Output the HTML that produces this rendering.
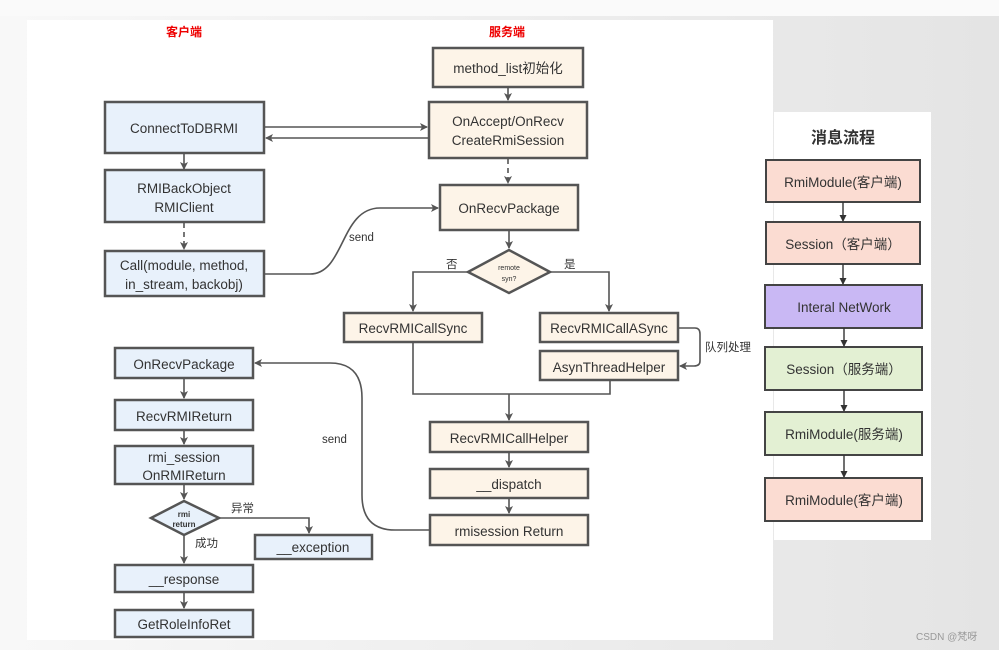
<!DOCTYPE html>
<html><head><meta charset="utf-8"><style>
body{margin:0;width:999px;height:650px;overflow:hidden;background:#f2f2f2;}
svg{position:absolute;left:0;top:0}
text{font-family:"Liberation Sans","Noto Sans CJK SC",sans-serif;fill:#333;}
</style></head><body>
<svg width="999" height="650" viewBox="0 0 999 650">
<defs>
<marker id="a" markerWidth="8" markerHeight="8" refX="7" refY="4" orient="auto" markerUnits="userSpaceOnUse"><path d="M0,0 L8,4 L0,8 L2,4 z" fill="#555"/></marker>
<marker id="b" markerWidth="7" markerHeight="7" refX="6" refY="3.5" orient="auto" markerUnits="userSpaceOnUse"><path d="M0,0 L7,3.5 L0,7 z" fill="#333"/></marker>
<linearGradient id="g" x1="0" x2="1"><stop offset="0" stop-color="#f8f8f8"/><stop offset="1" stop-color="#e4e4e4"/></linearGradient>
</defs>
<rect x="0" y="0" width="999" height="650" fill="url(#g)"/>
<rect x="27" y="20" width="746" height="620" fill="#fff"/>
<rect x="774" y="112" width="157" height="428" fill="#fff"/>
<rect x="0" y="0" width="999" height="16" fill="#fafafa"/>

<g font-size="13" text-anchor="middle">
<text x="184" y="36" fill="#e00" style="fill:#e00" font-weight="bold" font-size="12">客户端</text>
<text x="507" y="36" style="fill:#e00" font-weight="bold" font-size="12">服务端</text>
</g>

<g stroke="#555" stroke-width="2.5">
<!-- client -->
<rect x="105" y="102" width="159" height="51" fill="#e8f1fb"/>
<rect x="105" y="170" width="159" height="52" fill="#e8f1fb"/>
<rect x="105" y="251" width="159" height="45" fill="#e8f1fb"/>
<rect x="115" y="348" width="138" height="30" fill="#e8f1fb"/>
<rect x="115" y="400" width="138" height="30" fill="#e8f1fb"/>
<rect x="115" y="446" width="138" height="38" fill="#e8f1fb"/>
<polygon points="151,518 184,501 219,518 184,535" fill="#e8f1fb"/>
<rect x="255" y="535" width="117" height="24" fill="#e8f1fb"/>
<rect x="115" y="565" width="138" height="27" fill="#e8f1fb"/>
<rect x="115" y="610" width="138" height="27" fill="#e8f1fb"/>
<!-- server -->
<rect x="433" y="48" width="150" height="39" fill="#fdf4e8"/>
<rect x="429" y="102" width="158" height="56" fill="#fdf4e8"/>
<rect x="440" y="185" width="138" height="45" fill="#fdf4e8"/>
<polygon points="468,272 509,250 550,272 509,293" fill="#fdf4e8"/>
<rect x="344" y="313" width="138" height="29" fill="#fdf4e8"/>
<rect x="540" y="313" width="138" height="29" fill="#fdf4e8"/>
<rect x="540" y="351" width="138" height="29" fill="#fdf4e8"/>
<rect x="430" y="422" width="158" height="30" fill="#fdf4e8"/>
<rect x="430" y="469" width="158" height="29" fill="#fdf4e8"/>
<rect x="430" y="515" width="158" height="30" fill="#fdf4e8"/>
</g>
<g stroke="#444" stroke-width="2">
<rect x="766" y="160" width="154" height="42" fill="#fbdcd2"/>
<rect x="766" y="222" width="154" height="42" fill="#fbdcd2"/>
<rect x="765" y="285" width="157" height="43" fill="#c9b8f4"/>
<rect x="765" y="347" width="157" height="43" fill="#e3f0d3"/>
<rect x="765" y="412" width="157" height="43" fill="#e3f0d3"/>
<rect x="765" y="478" width="157" height="43" fill="#fbdcd2"/>
</g>

<g stroke="#555" stroke-width="1.6" fill="none" marker-end="url(#a)">
<line x1="184" y1="153" x2="184" y2="169"/>
<line x1="184" y1="223" x2="184" y2="249" stroke-dasharray="5,4"/>
<line x1="264" y1="127" x2="427" y2="127"/>
<line x1="429" y1="138" x2="266" y2="138"/>
<path d="M264,274 L310,274 C345,274 340,208 380,208 L438,208"/>
<line x1="508" y1="87" x2="508" y2="100"/>
<line x1="508" y1="159" x2="508" y2="183" stroke-dasharray="5,4"/>
<line x1="509" y1="230" x2="509" y2="248"/>
<path d="M468,272 L413,272 L413,311"/>
<path d="M550,272 L609,272 L609,311"/>
<path d="M678,328 L695,328 Q700,328 700,334 L700,361 Q700,366 694,366 L680,366"/>
<path d="M413,342 L413,394 L610,394 L610,380" marker-end="none"/>
<line x1="509" y1="394" x2="509" y2="420"/>
<line x1="509" y1="452" x2="509" y2="467"/>
<line x1="509" y1="498" x2="509" y2="513"/>
<path d="M430,530 L395,530 Q362,530 362,495 L362,398 Q362,363 330,363 L255,363"/>
<line x1="184" y1="378" x2="184" y2="398"/>
<line x1="184" y1="430" x2="184" y2="444"/>
<line x1="184" y1="484" x2="184" y2="499"/>
<path d="M219,518 L309,518 L309,533"/>
<line x1="184" y1="535" x2="184" y2="563"/>
<line x1="184" y1="592" x2="184" y2="608"/>
</g>
<g stroke="#333" stroke-width="1.4" marker-end="url(#b)">
<line x1="843" y1="202" x2="843" y2="221"/>
<line x1="843" y1="264" x2="843" y2="284"/>
<line x1="844" y1="328" x2="844" y2="346"/>
<line x1="844" y1="390" x2="844" y2="411"/>
<line x1="844" y1="455" x2="844" y2="477"/>
</g>

<g font-size="13.5" text-anchor="middle">
<text x="184" y="133">ConnectToDBRMI</text>
<text x="184" y="193">RMIBackObject</text>
<text x="184" y="212">RMIClient</text>
<text x="184" y="270">Call(module, method,</text>
<text x="184" y="289">in_stream, backobj)</text>
<text x="184" y="369">OnRecvPackage</text>
<text x="184" y="421">RecvRMIReturn</text>
<text x="184" y="462">rmi_session</text>
<text x="184" y="480">OnRMIReturn</text>
<text x="184" y="517" font-size="8" font-weight="bold">rmi</text>
<text x="184" y="527" font-size="8" font-weight="bold">return</text>
<text x="313" y="552">__exception</text>
<text x="184" y="584">__response</text>
<text x="184" y="629">GetRoleInfoRet</text>

<text x="508" y="73">method_list初始化</text>
<text x="508" y="126">OnAccept/OnRecv</text>
<text x="508" y="145">CreateRmiSession</text>
<text x="509" y="213">OnRecvPackage</text>
<text x="509" y="270" font-size="7">remote</text>
<text x="509" y="281" font-size="7">syn?</text>
<text x="413" y="333">RecvRMICallSync</text>
<text x="609" y="333">RecvRMICallASync</text>
<text x="609" y="372">AsynThreadHelper</text>
<text x="509" y="443">RecvRMICallHelper</text>
<text x="509" y="489">__dispatch</text>
<text x="509" y="536">rmisession Return</text>

<text x="843" y="143" font-size="16" font-weight="bold">消息流程</text>
<text x="843" y="187">RmiModule(客户端)</text>
<text x="843" y="249">Session（客户端）</text>
<text x="844" y="312">Interal NetWork</text>
<text x="844" y="374">Session（服务端）</text>
<text x="844" y="439">RmiModule(服务端)</text>
<text x="844" y="505">RmiModule(客户端)</text>
</g>
<g font-size="11.5" fill="#444">
<text x="349" y="241">send</text>
<text x="322" y="443">send</text>
<text x="446" y="268">否</text>
<text x="564" y="268">是</text>
<text x="705" y="351">队列处理</text>
<text x="231" y="512">异常</text>
<text x="195" y="547">成功</text>
<text x="916" y="640" font-size="10" style="fill:#999">CSDN @梵呀</text>
</g>
</svg>
</body></html>
